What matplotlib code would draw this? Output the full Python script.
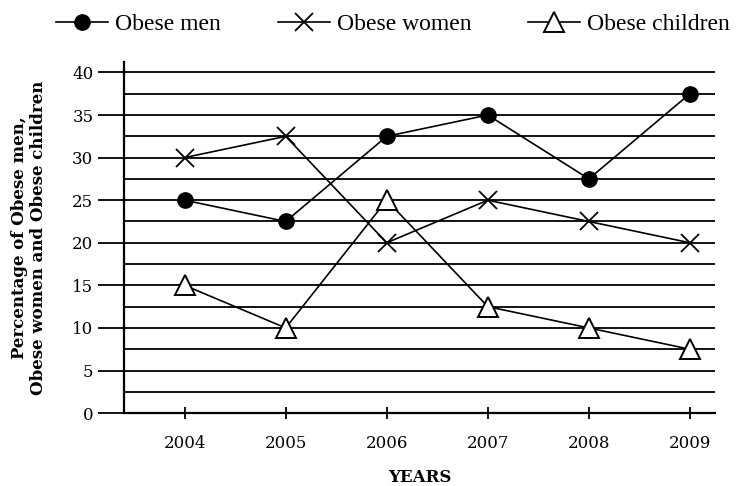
import numpy as np
import matplotlib
matplotlib.use("Agg")
import matplotlib.pyplot as plt

# Values
years = [2004, 2005, 2006, 2007, 2008, 2009]
obese_men = [25, 22.5, 32.5, 35, 27.5, 37.5]
obese_women = [30, 32.5, 20, 25, 22.5, 20]
obese_children = [15, 10, 25, 12.5, 10, 7.5]
y_ticks = [0, 5, 10, 15, 20, 25, 30, 35, 40]

plt.rcParams['font.family'] = ['DejaVu Serif']

fig = plt.figure(figsize=(7.56, 4.86), dpi=100)
ax = fig.add_axes([0.164, 0.150, 0.782, 0.722])

# horizontal rules every 2.5
for g in np.arange(2.5, 41, 2.5):
    ax.axhline(g, color='black', lw=1.3, zorder=1)

ax.plot(years, obese_men, color='black', lw=1.2, marker='o', ms=11,
        mfc='black', mec='black', label='Obese men', zorder=3)
ax.plot(years, obese_women, color='black', lw=1.2, marker='x', ms=13,
        mew=1.3, label='Obese women', zorder=3)
ax.plot(years, obese_children, color='black', lw=1.2, marker='^', ms=15,
        mfc='white', mec='black', mew=1.4, label='Obese children', zorder=4)

ax.set_xlim(2003.4, 2009.25)
ax.set_ylim(0, 41.2)
ax.set_xticks(years)
ax.set_yticks(y_ticks)
ax.tick_params(axis='y', direction='out', length=19, width=1.3, labelsize=12, pad=3)
ax.tick_params(axis='x', direction='inout', length=8, width=1.3, labelsize=12, pad=12)

for side in ['top', 'right']:
    ax.spines[side].set_visible(False)
ax.spines['left'].set_linewidth(1.6)
ax.spines['bottom'].set_linewidth(1.6)

ax.set_xlabel('YEARS', fontweight='bold', fontsize=12, labelpad=12)
ax.set_ylabel('Percentage of Obese men,\nObese women and Obese children',
              fontweight='bold', fontsize=12, labelpad=18)

fig.legend(loc='upper center', bbox_to_anchor=(0.52, 1.015), ncol=3,
           frameon=False, handlelength=2.2, columnspacing=2.4,
           handletextpad=0.3, prop={'family': 'Liberation Serif', 'size': 17})

fig.savefig('out.png', dpi=100)
